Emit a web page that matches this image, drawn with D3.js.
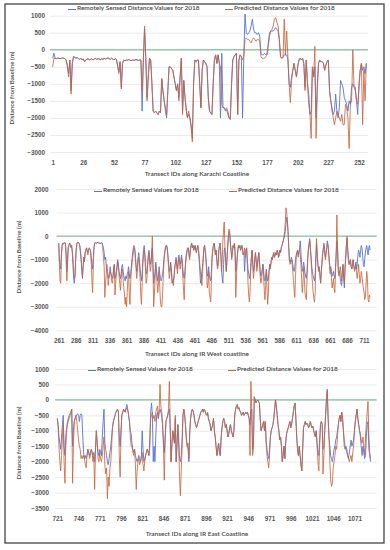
<!DOCTYPE html>
<html><head><meta charset="utf-8">
<script src="https://cdn.jsdelivr.net/npm/d3@7"></script>
<style>body{margin:0;background:#fff}svg{display:block;font-family:Lato,"Open Sans",sans-serif}</style>
</head><body><svg id="c" width="390" height="550"></svg>
<script>
// ---------- Karachi coastline ----------
const karachiTicks=["1","26","52","77","102","127","152","177","202","227","252"];
const karachiYTicks=[1000,500,0,-500,-1000,-1500,-2000,-2500,-3000];
const karachiPred=[
-500,-250,-250,-260,-240,-250,-260,-250,-240,-250,
-260,-300,-500,-800,-300,-1300,-400,-200,-220,-250,
-230,-260,-280,-250,-300,-270,-350,-300,-280,-260,
-300,-280,-260,-300,-270,-250,-280,-260,-270,-300,
-260,-280,-250,-270,-260,-240,-260,-280,-250,-270,
-300,-260,-280,-500,-700,-350,-1150,-400,-300,-320,
-300,-310,-290,-300,-320,-300,-310,-300,-290,-300,
-310,-300,-300,-1200,-300,700,-250,-1500,-800,-250,
-300,-1000,-1800,-1850,-1800,-1850,-1900,-1800,-1850,-850,
-1200,-1500,-1700,-1900,-1200,-500,-500,-550,-600,-800,
-1000,-1200,-1000,-1500,-800,-250,-1900,-900,-1400,-1700,
-2000,-1800,-2000,-2300,-2700,-1000,-300,-350,-300,-300,
-1000,-1700,-600,-300,-350,-400,-500,-1400,-1800,-1850,
-1900,-1000,-300,-150,-400,-150,-400,-500,-1600,-1700,
-1700,-1750,-1700,-1800,-2000,-2000,-1000,-300,-200,-150,
-100,-1900,-300,-150,-200,-300,-200,300,350,300,
300,250,200,300,350,300,250,300,300,250,
-200,-250,-250,-250,-200,-150,100,400,550,600,
700,900,950,800,700,300,-200,-250,-220,900,
-150,550,-200,-1000,-1550,-900,-600,-400,-600,-800,
-500,-300,-250,-300,-250,-400,-1200,-300,-1000,-1600,
-1900,-2600,-500,-800,100,-2600,-1200,-400,-300,-350,
-350,-400,-600,-450,-350,-300,-1200,-1500,-1800,-2000,
-2200,-2000,-1800,-1900,-2000,-2100,-1900,-2200,-2200,-1600,
-1700,-2000,-2900,-1600,-1500,0,-1100,-1200,-1500,-1600,
-1200,-600,-400,-2200,-600,-1500,-400];
const karachiRS=[
-250,-100,-250,-260,-240,-250,-260,-250,-240,-250,
-260,-300,-450,-700,-300,-1200,-400,-200,-220,-250,
-230,-260,-280,-250,-300,-270,-350,-300,-280,-260,
-300,-280,-260,-300,-270,-250,-280,-260,-270,-300,
-260,-280,-250,-270,-260,-240,-260,-280,-250,-270,
-300,-260,-280,-450,-650,-350,-1100,-400,-300,-320,
-300,-310,-290,-300,-320,-300,-310,-300,-290,-300,
-310,-300,-300,-1800,-300,600,-250,-1400,-800,-250,
-300,-1000,-1800,-1850,-1800,-1850,-1900,-1800,-1850,-850,
-1200,-1500,-1800,-2000,-1200,-500,-500,-550,-600,-800,
-1000,-1200,-1000,-1400,-800,-250,-1800,-900,-1400,-1800,
-2000,-1900,-2000,-2200,-2600,-1000,-300,-350,-300,-300,
-1000,-1700,-600,-300,-350,-400,-500,-1400,-1800,-1850,
-1900,-1000,-300,-150,-400,-150,-400,-2000,-100,-1700,
-1700,-1800,-1750,-1900,-2000,-2050,-1000,-300,-200,-150,
-100,-1900,-300,-150,-200,-2000,-200,1050,500,450,
500,550,700,900,600,500,500,450,500,400,
-100,-150,-150,-100,-150,-100,200,500,550,550,
550,600,650,600,550,300,-200,-250,-220,-150,
-150,-150,-300,-1000,-1100,-800,-600,-400,-600,-800,
-500,-300,-250,-300,-250,-400,-1100,-300,-1000,-1300,
-1900,-1800,-500,-800,-500,-2000,-1000,-400,-300,-350,
-350,-400,-600,-450,-350,-300,-1200,-1500,-1700,-1900,
-1800,-1300,-1800,-2000,-1700,-900,-1000,-1100,-1400,-1500,
-1600,-1800,-1500,-1600,-1100,-1000,-1100,-1100,-1500,-1900,
-1000,-600,-400,-600,-500,-700,-400];

// ---------- IR West coastline ----------
const westTicks=["261","286","311","336","361","386","411","436","461","486","511","536","561","586","611","636","661","686","711"];
const westYTicks=[2000,1000,0,-1000,-2000,-3000,-4000];
const westPred=[
-300,-1200,-1900,-2000,-800,-400,-300,-350,-300,-280,-300,-1000,-1900,-1200,-500,-400,-300,-350,-500,-400,
-600,-900,-1500,-1800,-1700,-1000,-500,-300,-250,-280,-300,-400,-700,-1000,-1400,-1700,-1300,-900,-1100,-700,
-600,-500,-700,-800,-600,-500,-550,-700,-1200,-1900,-2400,-1200,-500,-300,-280,-300,-300,-260,-300,-280,
-300,-320,-300,-280,-300,-500,-900,-1300,-2600,-2000,-1600,-1200,-1500,-2100,-1800,-1700,-1500,-1600,-1900,-2000,
-1800,-1400,-1200,-2500,-2000,-1600,-1400,-1100,-1300,-1700,-2000,-2300,-1800,-1500,-1400,-1900,-2200,-2500,-2900,-2600,
-3000,-2400,-1800,-1500,-2500,-2900,-2000,-1500,-1200,-900,-700,-500,-600,-1000,-1400,-1800,-1500,-1100,-900,-1200,
-1800,-2500,-2900,-2000,-1200,-800,-600,-900,-1500,-2000,-1800,-1400,-900,-700,-1100,-1500,-1300,-800,0,-1500,
-3000,-2500,-1800,-1200,-1600,-2000,-2400,-2000,-1500,-2200,-2800,-3000,-3000,-2500,-1800,-1200,-800,-600,-500,-400,
-600,-900,-1400,-1800,-1600,-1200,-1500,-2000,-1900,-2100,-1800,-1400,-1200,-1000,-1300,-1600,-1200,-900,-1100,-1400,
-1200,-900,-1200,-1800,-2300,-2700,-1800,-1200,-900,-700,-600,-500,-800,-1000,-600,-400,-300,-500,-400,-600,
-500,-400,-600,-700,-500,-400,-600,-800,-1200,-1500,-1800,-2100,-1600,-1000,-500,-400,-700,-1000,-1500,-2200,
-2000,-1500,-2400,-2600,-2800,-2000,-1000,-600,-400,-300,-500,-800,-600,-1000,-1400,-1200,-600,-400,-300,-800,
-1500,-1000,-200,300,600,-500,-1000,-1500,-1000,-500,0,300,200,-300,-600,-1000,-700,-400,-500,-300,
-800,-2600,-1800,-1000,-600,-400,-500,-400,-600,-500,-400,-600,-800,-700,-500,-900,-600,-500,-1200,-2000,
-2500,-2800,-2400,-1500,-900,-600,-1200,-1800,-1500,-1000,-700,-1100,-1500,-1300,-900,-700,-1200,-1700,-2000,-1800,
-1500,-1200,-1700,-2300,-2700,-2100,-1500,-2200,-2900,-2400,-1600,-1200,-1400,-1100,-900,-1000,-800,-700,-900,-800,
-700,-800,-600,-700,-900,-800,-600,-700,-500,-400,-300,-200,0,200,600,1200,1000,700,200,-500,
-1000,-1200,-1100,-1000,-1200,-1500,-1900,-2300,-2600,-1800,-900,-700,-600,-900,-700,-600,-800,-1200,-1800,-2400,
-2000,-1300,-1800,-2400,-2600,-2700,-1800,-1000,-600,-400,-200,-600,-1000,-1600,-2000,-2400,-2600,-2800,-2400,-1000,
-100,-800,-1200,-1500,-1400,-1700,-2000,-1600,-1200,-800,-600,-400,-700,-1000,-800,-500,-300,-400,-800,-1200,
-1600,-1400,-1800,-2200,-2000,-1800,-2200,-2400,-1500,-800,900,-500,-1500,-1700,-1500,-1300,-1600,-1900,-1500,-1200,
-1800,-2000,-1400,-900,-400,0,-600,-1000,-1200,-1100,-1000,-1300,-1400,-1200,-1000,-1300,-1500,-1400,-1200,-1600,
-1800,-1500,-1200,-1600,-2000,-1800,-1500,-1700,-2000,-2200,-2400,-2700,-2600,-2000,-1500,-1800,-2700,-2800,-2500,-2600];
const westRS=[
-300,-1000,-1200,-1400,-800,-400,-300,-300,-300,-280,-300,-800,-1500,-1000,-500,-400,-300,-350,-450,-400,
-700,-1200,-1800,-2000,-1700,-1000,-500,-300,-250,-280,-300,-400,-600,-900,-1400,-1800,-1300,-900,-1000,-700,
-600,-500,-600,-700,-600,-500,-550,-600,-900,-1200,-1400,-900,-500,-300,-280,-300,-300,-260,-300,-280,
-300,-320,-300,-280,-300,-400,-500,-700,-1000,-900,-1200,-1500,-1600,-1800,-1700,-1500,-1300,-1600,-1700,-1800,
-1700,-1300,-1200,-1800,-1700,-1500,-1200,-1000,-1200,-1500,-1700,-1800,-1600,-1300,-1200,-1500,-1700,-1800,-1900,-1700,
-1800,-1600,-1500,-1300,-1600,-1800,-1600,-1300,-1000,-700,-500,-400,-500,-800,-1200,-1500,-1300,-900,-700,-1000,
-1400,-1700,-1900,-1600,-1000,-600,-400,-700,-1200,-1600,-1500,-1200,-800,-600,-900,-1200,-1100,-700,-500,-1200,
-2000,-1800,-1500,-1100,-1400,-1700,-1900,-1700,-1300,-1600,-1800,-1900,-1800,-1600,-1400,-1000,-700,-500,-400,-400,
-500,-800,-1200,-1500,-1400,-1100,-1400,-1800,-2000,-1900,-1700,-1300,-1100,-900,-1200,-1400,-1100,-800,-1000,-1200,
-1100,-800,-1000,-1400,-1700,-1800,-1500,-1100,-800,-600,-500,-500,-700,-900,-600,-400,-300,-500,-400,-600,
-500,-400,-600,-700,-500,-400,-600,-1000,-1500,-2000,-1800,-1500,-1300,-900,-500,-400,-600,-900,-1300,-1700,
-1600,-1300,-1700,-1800,-1900,-1500,-900,-600,-400,-300,-500,-800,-600,-1000,-1300,-1200,-600,-400,-300,-800,
-1400,-1800,-2000,-1200,-600,-500,-1000,-1500,-1000,-500,-100,200,100,-300,-600,-900,-700,-400,-500,-300,
-700,-1500,-1300,-900,-600,-400,-500,-400,-600,-500,-400,-600,-800,-700,-1500,-900,-600,-500,-1000,-1400,
-1600,-1800,-1700,-1300,-900,-600,-1100,-1500,-1400,-1000,-700,-1000,-1300,-1200,-900,-700,-1100,-1500,-1700,-1600,
-1400,-1200,-1500,-1800,-1900,-1700,-1400,-1700,-1900,-1800,-1500,-1200,-1300,-1100,-900,-1000,-800,-700,-900,-800,
-700,-800,-600,-700,-900,-800,-600,-700,-500,-400,-300,-200,-100,0,200,500,800,600,200,-400,
-1000,-1100,-1000,-900,-1000,-1200,-1400,-1500,-1300,-1000,-800,-700,-600,-800,-700,-500,-200,-700,-1200,-1500,
-1400,-1100,-1300,-1600,-1700,-1800,-1500,-900,-500,-300,-100,-500,-900,-1300,-1500,-1700,-1800,-1900,-1600,-900,
-300,-800,-1200,-1400,-1300,-1600,-2000,-1500,-1100,-700,-500,-300,-600,-900,-700,-500,-200,-400,-700,-1100,
-1400,-1300,-1500,-1700,-1600,-1500,-1700,-1800,-1300,-700,-200,-500,-1300,-1600,-1500,-1800,-2000,-2100,-1600,-1200,
-1700,-2200,-1400,-900,-400,-100,-600,-1000,-1200,-1100,-1000,-1300,-1400,-1200,-1000,-1300,-1400,-1300,-1100,-1400,
-1200,-800,-600,-700,-900,-600,-400,-500,-800,-1200,-1300,-1000,-700,-500,-400,-600,-800,-500,-400,-600];

// ---------- IR East coastline ----------
const eastTicks=["721","746","771","796","821","846","871","896","921","946","971","996","1021","1046","1071"];
const eastYTicks=[1000,500,0,-500,-1000,-1500,-2000,-2500,-3000,-3500];
const eastPred=[
-600,-900,-1500,-2000,-2300,-1800,-1200,-800,-2000,-2700,-1500,-1000,-800,-700,-600,-500,-400,-300,-2700,-1500,
-700,-600,-500,-700,-1000,-1300,-1500,-1600,-1900,-1800,-1900,-1800,-1900,-2100,-2200,-1800,-1600,-1700,-1900,-1800,
-1600,-1700,-2000,-1800,-2900,-1600,-1000,-1400,-1900,-2000,-1700,-1900,-2000,-1800,-1500,-1200,-2100,-2400,-2200,-3200,
-2500,-2800,-2200,-2000,-1500,-900,-700,-600,-500,-400,-350,-300,-400,-1800,-2500,-1200,-500,-400,-300,-350,
-400,-300,-250,-350,-500,-700,-1200,-1500,-1500,-1700,-1800,-1600,-2100,-2900,-2300,-2000,-1900,-2100,-2000,-1900,
-1700,-2100,-2300,-2000,-1800,-1700,-1600,-1700,-1800,-1500,-600,-500,-400,-600,-500,-700,-400,-300,-200,-600,
-300,500,-200,-400,-800,-1500,-2600,-1400,-700,-600,-500,-300,600,-800,-2000,-1500,-1000,-1200,-1400,-500,
-2000,-1500,-800,-1500,-2500,-3100,-2300,-1500,-500,-300,-500,-800,-1200,-1500,-1400,-1900,-1000,-600,-400,-300,
-350,-500,-700,-800,-900,-800,-700,-600,-500,-400,-350,-300,-400,-300,-350,-450,-500,-400,-600,-700,
-800,-1000,-900,-800,-600,-1000,-1200,-1500,-1800,-1600,-1400,-1700,-1800,-1200,-900,-700,-600,-700,-900,-800,
-1000,-1200,-1100,-900,-800,-1000,-1100,-1200,-1000,-500,-300,-200,-150,-300,-250,-350,-400,-500,-450,-400,
-500,-450,-400,-450,-400,-500,-600,-1800,600,-300,-1800,-1600,100,0,-100,-50,0,-50,-100,-600,
-1000,-900,-800,-700,-1000,-700,-1400,-1800,-2000,-2200,-1800,-1200,-1000,-900,-800,-600,-300,0,-200,-500,
-800,-1000,-1300,-1200,-1500,-2000,-1800,-1500,-1900,-1400,-1100,-1000,-900,-800,-700,-900,-800,-600,-400,-200,
-100,-600,-1200,-1600,-1800,-1500,-1800,-2100,-2300,-1600,-900,-800,-700,-800,-750,-800,-900,-850,-700,-800,
-900,-850,-1000,-1100,-1200,-1000,-1500,-2000,-2300,-1500,-800,-700,-800,-2400,-1800,-1000,-500,0,350,-600,
-1200,-2000,-2600,-2800,-2700,-2200,-2000,-1800,-1500,-1600,-1200,-800,-600,-500,-700,-400,-600,-1000,-1300,-1500,
-1600,-1700,-1800,-1900,-2000,-1900,-1800,-2000,-1700,-1500,-1000,-700,-500,-300,-600,-800,-1000,-1100,-1300,-1400,
-1200,-1500,-1800,-1200,-800,-400,-50,-1200,-1700,-1900];
const eastRS=[
-600,-800,-1200,-1400,-1600,-1200,-800,-500,-1500,-1800,-1200,-900,-700,-600,-500,-450,-400,-300,-1500,-1000,
-700,-600,-500,-500,-450,-500,-700,-500,-450,-500,-1200,-1700,-1900,-1800,-1900,-1800,-1600,-1700,-1800,-1700,
-1600,-1700,-1800,-1700,-2000,-1600,-1000,-1400,-1700,-1800,-1600,-1700,-1800,-1200,-700,-300,-1400,-1600,-1800,-2000,
-2100,-1900,-1700,-1500,-1200,-900,-700,-600,-500,-400,-350,-300,-400,-1200,-1500,-1000,-500,-400,-300,-350,
-400,-250,-150,-300,-500,-700,-1000,-1100,-1400,-1600,-1700,-1600,-1800,-1900,-2000,-1900,-1800,-1900,-2000,-1800,
-1000,-1600,-2000,-1900,-1800,-1700,-1600,-1700,-1800,-1200,-400,-100,-500,-2000,-1500,-2000,-1200,-500,-400,-600,
-400,-300,-400,-500,-800,-1300,-1700,-1200,-700,-600,-500,-400,-300,-900,-2000,-1400,-1000,-1200,-1400,-600,
-2000,-1400,-800,-1300,-1900,-2000,-1800,-1300,-500,-300,-500,-800,-1300,-1500,-1600,-2000,-1100,-600,-400,-300,
-350,-500,-700,-800,-900,-800,-700,-600,-500,-400,-350,-300,-400,-300,-350,-450,-500,-400,-600,-700,
-800,-1000,-900,-800,-600,-1000,-1200,-1500,-1800,-1600,-1400,-1700,-1800,-1200,-900,-700,-600,-700,-900,-800,
-1000,-1200,-1100,-900,-800,-1000,-1100,-1200,-1000,-500,-300,-200,-150,-300,-250,-350,-400,-500,-450,-400,
-500,-450,-400,-450,-400,-500,-600,-800,-400,-300,-1600,-1500,100,0,-100,-50,0,-50,-100,-600,
-1000,-900,-800,-700,-1000,-700,-1300,-1600,-1800,-1900,-1600,-1200,-1000,-900,-800,-600,-300,0,-200,-500,
-800,-1000,-1300,-1200,-1500,-2000,-1800,-1500,-1900,-1400,-1100,-1000,-900,-800,-700,-900,-800,-600,-400,-200,
-100,-600,-1200,-1600,-1800,-1500,-1800,-2100,-2300,-1600,-900,-800,-700,-800,-750,-800,-900,-850,-700,-800,
-900,-850,-1000,-1100,-1200,-1000,-1400,-1700,-1800,-1300,-800,-700,-800,-1600,-1500,-1000,-500,0,300,-600,
-1200,-1500,-1800,-1900,-2000,-1800,-1600,-1500,-1300,-1200,-1000,-800,-600,-500,-700,-400,-600,-1000,-1500,-1600,
-1500,-1600,-1800,-1900,-1700,-1500,-1300,-1500,-1400,-1300,-1000,-700,-500,-300,-600,-800,-1000,-1200,-1500,-1800,
-1500,-1700,-1900,-1800,-1200,-800,-700,-1600,-1800,-2000];

const blueC="#5574d6", redC="#c8643c", zeroC="#6bb58e", gridC="#dcdcdc", txtC="#555";

const panels=[
 {pred:karachiPred, rs:karachiRS, ticks:karachiTicks, yTicks:karachiYTicks,
  x0:52.7, step:1.225, yTop:15.7, yBot:152, gl:50, gr:368, labX:45,
  xLabY:165.5, title:"Transect IDs along Karachi Coastline", titleY:176,
  yTitleX:12, yTitleY:88,
  leg:[{x:68,y:8,t:"Remotely Sensed Distance Values for 2018",c:blueC},
       {x:225,y:8,t:"Predicted Distance Values for 2018",c:redC}]},
 {pred:westPred, rs:westRS, ticks:westTicks, yTicks:westYTicks,
  x0:58.7, step:0.6785, yTop:189, yBot:330.3, gl:56.7, gr:376.7, labX:48.5,
  xLabY:344, title:"Transect IDs along IR West coastline", titleY:356,
  yTitleX:19, yTitleY:257,
  leg:[{x:94,y:190,t:"Remotely Sensed Values for 2018",c:blueC},
       {x:229,y:190,t:"Predicted Distance Values for 2018",c:redC}]},
 {pred:eastPred, rs:eastRS, ticks:eastTicks, yTicks:eastYTicks,
  x0:57.3, step:0.849, yTop:369, yBot:508, gl:55, gr:376.7, labX:49,
  xLabY:521.5, title:"Transect IDs along IR East Coastline", titleY:536,
  yTitleX:19, yTitleY:443,
  leg:[{x:88,y:369,t:"Remotely Sensed Values for 2018",c:blueC},
       {x:228,y:369,t:"Predicted Distance Values for 2018",c:redC}]}
];

const svg=d3.select("#c");
svg.append("rect").attr("x",5).attr("y",4).attr("width",379).attr("height",539)
  .attr("fill","none").attr("stroke","#444").attr("stroke-width",1.3);

panels.forEach(p=>{
  const n=p.pred.length;
  const x=d3.scaleLinear().domain([0,n-1]).range([p.x0,p.x0+(n-1)*p.step]);
  const y=d3.scaleLinear().domain([d3.min(p.yTicks),d3.max(p.yTicks)]).range([p.yBot,p.yTop]);
  const g=svg.append("g");
  const ya=g.append("g").attr("transform",`translate(${p.gl},0)`)
    .call(d3.axisLeft(y).tickValues(p.yTicks).tickSizeInner(-(p.gr-p.gl)).tickSizeOuter(0)
      .tickPadding(p.gl-p.labX).tickFormat(d3.format("d")));
  ya.select(".domain").remove();
  ya.selectAll("line").attr("stroke",gridC).attr("stroke-width",0.6);
  ya.selectAll("text").attr("fill",txtC).style("font-size","6.3px").style("font-weight","600");
  g.append("line").attr("x1",p.gl).attr("x2",p.gr).attr("y1",y(0)).attr("y2",y(0))
    .attr("stroke",zeroC).attr("stroke-width",1);
  const tv=p.ticks.map((t,i)=>i*25);
  const xa=g.append("g").attr("transform",`translate(0,${p.xLabY-5})`)
    .call(d3.axisBottom(x).tickValues(tv).tickSize(0).tickPadding(0).tickFormat((d,i)=>p.ticks[i]));
  xa.select(".domain").remove();
  xa.selectAll("text").attr("fill",txtC).style("font-size","6.3px").style("font-weight","600");
  const line=d3.line().x((d,i)=>x(i)).y(d=>y(d));
  g.append("path").datum(p.rs).attr("d",line).attr("fill","none").attr("stroke",blueC)
    .attr("stroke-width",0.9).attr("stroke-linejoin","round");
  g.append("path").datum(p.pred).attr("d",line).attr("fill","none").attr("stroke",redC)
    .attr("stroke-width",0.9).attr("stroke-linejoin","round").attr("stroke-opacity",0.92);
  g.append("text").attr("x",197).attr("y",p.titleY).attr("text-anchor","middle")
    .attr("fill","#444").style("font-size","6.5px").style("font-weight","600").text(p.title);
  g.append("text").attr("transform",`translate(${p.yTitleX},${p.yTitleY}) rotate(-90)`)
    .attr("text-anchor","middle").attr("dy","0.35em").attr("fill","#444")
    .style("font-size","6.2px").style("font-weight","600").text("Distance from Baseline (m)");
  p.leg.forEach(l=>{
    g.append("line").attr("x1",l.x).attr("x2",l.x+8).attr("y1",l.y+1.5).attr("y2",l.y+1.5)
      .attr("stroke",l.c).attr("stroke-width",1);
    g.append("text").attr("x",l.x+9).attr("y",l.y).attr("dy","0.35em").attr("fill","#444")
      .style("font-size","6.5px").style("font-weight","600").text(l.t);
  });
});
</script></body></html>
